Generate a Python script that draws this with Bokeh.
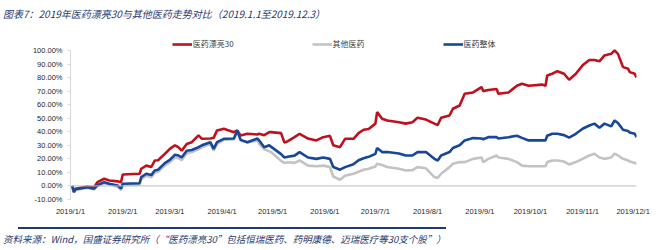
import pandas as pd
from bokeh.plotting import figure
from bokeh.layouts import column
from bokeh.models import (ColumnDataSource, Legend, LegendItem, FixedTicker, Div,
                          Span, PrintfTickFormatter, Range1d)
from bokeh.embed import file_html
from bokeh.resources import INLINE

title_text = "图表7：2019年医药漂亮30与其他医药走势对比（2019.1.1至2019.12.3）"
source_text = "资料来源：Wind，国盛证券研究所（“医药漂亮30”包括恒瑞医药、药明康德、迈瑞医疗等30支个股”）"
series_names = ["医药漂亮30", "其他医药", "医药整体"]

dates = ["2019-01-02", "2019-01-03", "2019-01-04", "2019-01-11", "2019-01-15", "2019-01-17",
         "2019-01-21", "2019-01-24", "2019-01-29", "2019-01-31", "2019-02-01", "2019-02-11",
         "2019-02-12", "2019-02-15", "2019-02-18", "2019-02-20", "2019-02-22", "2019-02-26",
         "2019-03-01", "2019-03-04", "2019-03-06", "2019-03-08", "2019-03-11", "2019-03-14",
         "2019-03-18", "2019-03-20", "2019-03-25", "2019-03-27", "2019-03-29", "2019-04-02",
         "2019-04-08", "2019-04-10", "2019-04-12", "2019-04-16", "2019-04-22", "2019-04-23",
         "2019-04-26", "2019-04-29", "2019-04-30", "2019-05-06", "2019-05-08", "2019-05-10",
         "2019-05-14", "2019-05-17", "2019-05-22", "2019-05-27", "2019-05-31", "2019-06-04",
         "2019-06-06", "2019-06-10", "2019-06-13", "2019-06-18", "2019-06-21", "2019-06-24",
         "2019-06-27", "2019-07-01", "2019-07-02", "2019-07-05", "2019-07-08", "2019-07-15",
         "2019-07-19", "2019-07-23", "2019-07-26", "2019-07-31", "2019-08-05", "2019-08-07",
         "2019-08-09", "2019-08-14", "2019-08-16", "2019-08-20", "2019-08-23", "2019-08-28",
         "2019-09-02", "2019-09-03", "2019-09-06", "2019-09-11", "2019-09-12", "2019-09-18",
         "2019-09-23", "2019-09-26", "2019-09-30", "2019-10-08", "2019-10-10", "2019-10-11",
         "2019-10-14", "2019-10-17", "2019-10-21", "2019-10-24", "2019-10-28", "2019-11-01",
         "2019-11-05", "2019-11-08", "2019-11-11", "2019-11-14", "2019-11-18", "2019-11-20",
         "2019-11-22", "2019-11-25", "2019-11-28", "2019-11-29", "2019-12-02", "2019-12-03"]

pretty30 = [0, -3, -2, -0.5, -1, 2.8, 5.3, 4, 3.4, 2.8, 8.5, 9,
            12.7, 15, 14, 18.8, 19, 23.7, 27.4, 30, 28.6, 26, 31, 32.3,
            37.3, 34.8, 35, 35.5, 41, 42.2, 39.7, 41, 37.3, 38.5, 38, 38.5,
            37.5, 39.7, 39.7, 39, 32, 33, 36, 38.5, 35, 33.6, 36, 37,
            30, 28.6, 34.8, 34.8, 39, 41.5, 42, 46, 54.5, 49.6, 48.3, 47,
            46, 47, 50.3, 49, 46, 45, 50.3, 52, 57, 59.4, 68, 69,
            73, 70, 70.8, 71.5, 68, 69, 74, 75.4, 74, 74.8, 74, 81.5,
            82.8, 84.7, 82.8, 78.4, 82.8, 89, 93, 93, 92, 96.3, 97.5, 100,
            97.5, 87.7, 86.5, 84, 82.8, 80]

overall = [0, -4.5, -2.5, -1, -2, 0.5, 2.8, 1.6, 0.4, -2, 1.6, 2,
           6.5, 9, 8, 11.4, 12, 16.8, 19.3, 23, 22.5, 21, 26, 26.5,
           28.6, 30, 32.3, 27.4, 32.3, 34.8, 35, 41, 34, 32.3, 35, 33.6,
           28.6, 30, 29, 23.5, 21, 21.5, 22.4, 25, 21, 20, 21, 20,
           14, 12, 13.9, 16, 19, 20.5, 21.5, 23.7, 28, 25, 25, 24,
           22.5, 22.5, 25, 25, 20, 18.8, 22.5, 25, 28, 30, 33.6, 35.3,
           35, 34.5, 36, 36, 35, 36, 37, 35.5, 33.6, 33.6, 33.6, 37,
           38.5, 38.5, 37.5, 35.6, 38.5, 42.2, 44.6, 46, 43, 46, 44, 48.3,
           46.5, 41.5, 40.6, 39.5, 38.5, 36]

others = [0, -4.8, -3, -1.5, -2.5, 0, 2, 1, -0.5, -3, 0.5, 1,
          5, 7.5, 6.5, 10, 10.5, 15, 17.5, 21, 20.5, 19, 24, 25,
          27, 28.5, 31, 26, 31, 34, 34.5, 40.5, 33.5, 32, 33.5, 31,
          27, 25.5, 25, 18.5, 17, 17.5, 17, 18.8, 15, 14.5, 15, 14,
          7, 4.6, 7.6, 9, 10.5, 12, 12.7, 14.4, 16.4, 15.5, 14, 12.7,
          11.4, 11.7, 13.9, 13, 6.5, 6, 9, 13.9, 16.4, 17.6, 17.6, 20,
          21, 17.6, 20, 22.5, 21, 20, 17.6, 15, 14.5, 14.5, 14.5, 17.6,
          18.8, 18.8, 18, 15.9, 17.6, 20, 22.5, 23.8, 21, 20, 21, 23.8,
          22.5, 20, 18.8, 18, 17, 16.4]

tick_dates = ["2019-01-01", "2019-02-01", "2019-03-01", "2019-04-01", "2019-05-01", "2019-06-01",
              "2019-07-01", "2019-08-01", "2019-09-01", "2019-10-01", "2019-11-01", "2019-12-01"]
tick_labels = ["2019/1/1", "2019/2/1", "2019/3/1", "2019/4/1", "2019/5/1", "2019/6/1",
               "2019/7/1", "2019/8/1", "2019/9/1", "2019/10/1", "2019/11/1", "2019/12/1"]
y_ticks = [-10, 0, 10, 20, 30, 40, 50, 60, 70, 80, 90, 100]

RED = "#c0101e"
GRAY = "#c3c3c3"
BLUE = "#17479a"
NAVY = "#1f3a6e"
CJK = "Noto Sans CJK SC"

src = ColumnDataSource(dict(date=pd.to_datetime(dates), pretty30=pretty30,
                            others=others, overall=overall))

def ms(d):
    return int(pd.Timestamp(d).value // 10**6)

x_start = ms("2019-01-01")
x_end = ms(dates[-1])

title_div = Div(text=f'<div style="font-family:\'{CJK}\';font-style:italic;font-size:10px;'
                     f'color:{NAVY};line-height:28px;height:28px;padding-left:3px;'
                     f'white-space:nowrap;">{title_text}</div>',
                width=671, height=28, margin=(0, 0, 0, 0))

p = figure(width=671, height=196, x_axis_type="datetime",
           x_range=Range1d(x_start, x_end), y_range=Range1d(-10, 110.3),
           output_backend="svg", toolbar_location=None, margin=(0, 0, 0, 0),
           min_border_left=70, min_border_right=35, min_border_top=8, min_border_bottom=25)
p.outline_line_color = None
p.grid.grid_line_color = None
p.background_fill_color = "white"
p.border_fill_color = "white"

p.add_layout(Span(location=0, dimension="width", line_color="#bfbfbf", line_width=1))

r_red = p.line("date", "pretty30", source=src, line_color=RED, line_width=2.6)
r_gray = p.line("date", "others", source=src, line_color=GRAY, line_width=2.6)
r_blue = p.line("date", "overall", source=src, line_color=BLUE, line_width=2.6)

# y axis
ya = p.yaxis[0]
ya.ticker = FixedTicker(ticks=y_ticks)
ya.bounds = (y_ticks[0], y_ticks[-1])
ya.formatter = PrintfTickFormatter(format="%.2f%%")
ya.axis_line_color = "#d9d9d9"
ya.major_tick_line_color = "#d9d9d9"
ya.major_tick_out = 3
ya.major_tick_in = 0
ya.minor_tick_line_color = None
ya.major_label_text_font = "Liberation Sans"
ya.major_label_text_font_size = "7.5px"
ya.major_label_text_color = "#262626"
ya.major_label_standoff = 5

# x axis
xa = p.xaxis[0]
tick_ms = [ms(d) for d in tick_dates]
xa.ticker = FixedTicker(ticks=tick_ms)
xa.major_label_overrides = {t: lab for t, lab in zip(tick_ms, tick_labels)}
xa.axis_line_color = None
xa.major_tick_line_color = None
xa.minor_tick_line_color = None
xa.major_tick_out = 0
xa.major_tick_in = 0
xa.major_label_text_font = "Liberation Sans"
xa.major_label_text_font_size = "7.5px"
xa.major_label_text_color = "#262626"
xa.major_label_standoff = 7

legend = Legend(items=[LegendItem(label=series_names[0], renderers=[r_red]),
                       LegendItem(label=series_names[1], renderers=[r_gray]),
                       LegendItem(label=series_names[2], renderers=[r_blue])],
                orientation="horizontal", location=(101.7, 149.7),
                glyph_width=20, glyph_height=10, label_height=10, label_standoff=1,
                spacing=78, padding=0, margin=0, border_line_color=None,
                background_fill_alpha=0, label_text_font=CJK,
                label_text_font_size="8px", label_text_color="#404040",
                label_text_baseline="middle")
p.add_layout(legend, "center")

source_div = Div(text=f'<div style="height:3px;"></div>'
                      f'<div style="margin-left:18px;border-top:2px solid {NAVY};height:0;"></div>'
                      f'<div style="font-family:\'{CJK}\';font-style:italic;font-size:9.5px;'
                      f'color:{NAVY};line-height:16px;padding-left:3px;padding-top:2px;'
                      f'white-space:nowrap;">{source_text}</div>',
                 width=671, height=26, margin=(0, 0, 0, 0))

layout = column(title_div, p, source_div, spacing=0, margin=(0, 0, 0, 0))

open("out.html", "w").write(file_html(layout, INLINE))
